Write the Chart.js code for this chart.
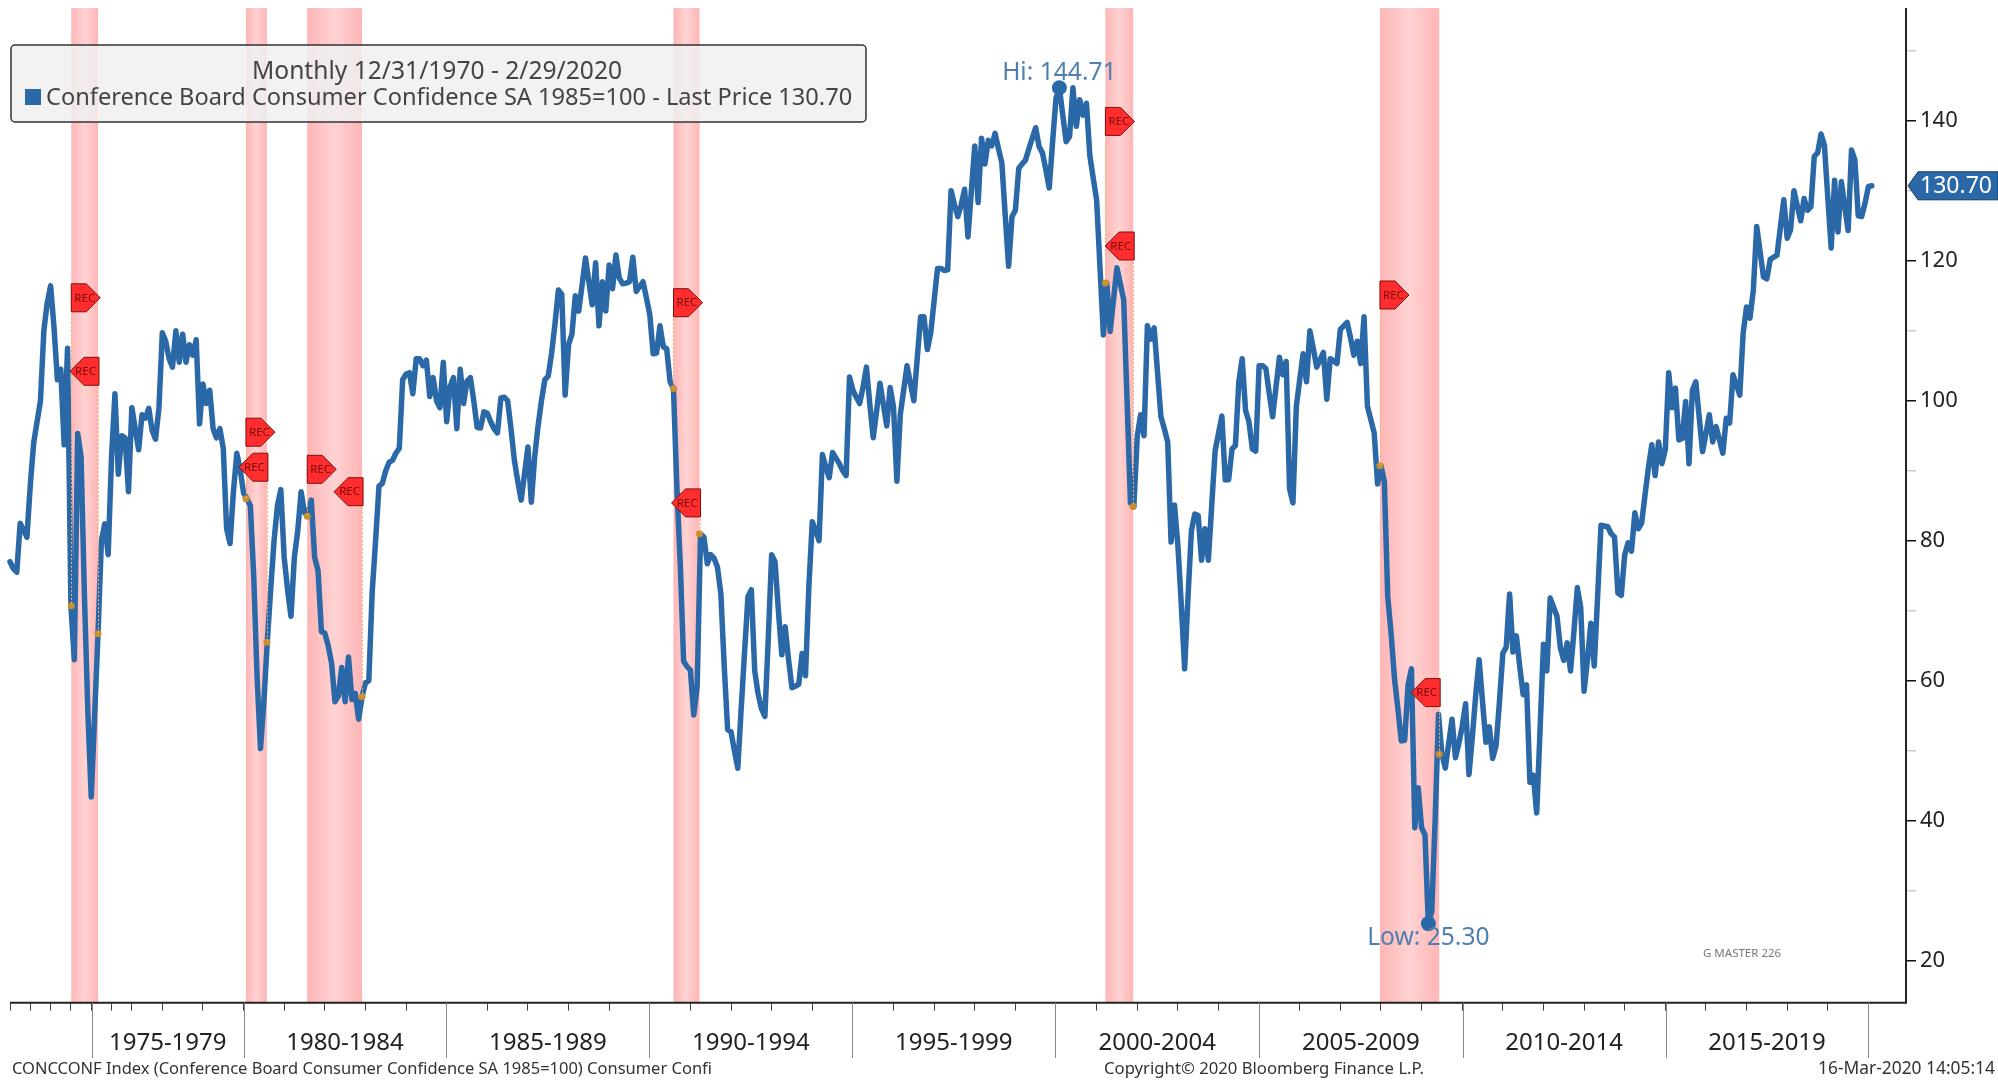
<!DOCTYPE html>
<html>
<head>
<meta charset="utf-8">
<title>Conference Board Consumer Confidence</title>
<script src="https://cdn.jsdelivr.net/npm/chart.js@4/dist/chart.umd.min.js"></script>
<style>html,body{margin:0;padding:0;background:#fff}canvas{display:block}</style>
</head>
<body>
<canvas id="c" width="1998" height="1081"></canvas>
<script>
const seriesValues = [
77,76,75.5,82.5,81.5,80.5,88,94,97,100,
110,114,116.4,110.5,103,104.5,93.7,107.5,70.7,63,
95.3,92,72,55.5,43.4,55,66.7,80,82.4,78,
92,101,89.5,95,94.7,87,99,96,93,98,
97.5,98.9,95.7,94.5,99,109.7,108.5,106,104.8,110,
105.5,109.5,105.5,108,106.5,108.7,96.7,102.4,99.6,101.5,
96,94.7,96,93.2,81.7,79.6,87,92.5,90.2,86.8,
86,85,75,60.4,50.3,57,65.5,73,80,85,
87.3,77.6,73,69.2,77.6,81.4,87,84,83.5,85.8,
77.6,75.7,67,66.8,65,62.5,57,57.8,61.9,57,
63.4,57.3,58.2,54.5,57.7,59.7,60,72.7,80,87.8,
88.2,90,91.2,91.5,92.5,93.2,103,103.8,104,101,
106,106,105,105.8,100.6,103.3,100,99,105.5,97,
102,103.3,96,104.5,99.6,102.8,103.3,100,96.2,96.1,
98.4,98.2,97,96,95.4,100.4,100.5,100,96,91.5,
88.5,85.8,89.5,93.4,85.5,92,96.4,100,103,103.5,
106.8,111,115.8,115.2,100.8,108,109.5,115,112.8,116.5,
120.4,117,113.7,119.7,110.7,117,112.8,119.4,116,120.8,
117.5,116.7,116.8,117,120.5,115.6,116.3,117,114.7,112.3,
106.7,106.8,110.7,107.7,107.4,102.7,101.7,87.7,76.7,62.8,
62,61.5,55.1,59.2,81,80.5,76.7,78,77.5,76.2,
72.4,62,53,52.7,50,47.5,56,64.1,72,73,
61.4,58.1,56,54.9,66,78,77,70,63.7,67.7,
63,59,59.2,59.5,63.9,60.7,73.5,82.7,81.5,80,
92.3,90.5,89,92.6,91.8,91,90,89.3,103.4,101.5,
100.5,99.6,102,104.8,99.5,94.7,98.5,102.5,99.5,96.4,
101.9,99.1,88.5,98,101.5,105,102.5,100,106,112,
112,107.3,109.7,114.3,118.9,118.9,118.6,118.7,130,128,
126.3,128,130.2,123.4,130,136.4,128.3,137.5,133.8,137.2,
136.4,138.2,136,134,126.5,119.2,126.3,127.2,133.2,133.8,
134.4,136,137.5,139,136.3,135.4,133,130.4,137,143.2,
144.71,140.8,137,137.7,144.7,139.2,143,140.8,142.5,135,
131.8,128.7,119,109.4,116.8,109.9,114.5,119,116.7,114.4,
100,85.4,84.9,94.9,98,95,110.7,108.8,110.4,104,
97.7,96,94.1,79.8,85.1,79.4,71,61.7,72,81.4,
83.8,83.6,77.2,81.7,77.2,85,92.8,95.3,97.8,88.7,
88.7,93.1,93.6,102.7,106,98.6,97,93.1,92.8,105,
105,104.6,101,97.7,102,106.2,103.7,105.6,87.4,85.4,
99.2,103,106.7,102.7,110,107.5,104.8,105.8,106.9,100.2,
106,105.7,105.3,110.2,110.7,111.2,109,106.5,108.5,105.3,
112,99.2,97.3,95.4,88.1,90.7,88.4,72,66.7,60.3,
56,51.4,51.5,59.4,61.7,39,44.7,39,38,25.3,
27,40,55.2,49.5,47.5,51,54.5,49,51,53.5,
56.7,46.6,52,58,63,57,51.2,53.4,48.9,50.7,
57,63.9,64.8,72.4,64.1,66.4,62,58,59.4,45.5,
46.5,41.1,53,65.2,61.4,71.8,70.5,69.2,64.7,62.9,
65.4,61.4,67,73.3,70.5,58.5,63,68.2,62.1,72,
82.2,82.1,82,81,80.5,72.5,72.2,78,79.7,78.5,
84,81.7,82.5,86.5,90.4,93.7,89.3,94.1,91,93,
104,99,101.8,94.4,94.6,99.9,91,101.5,102.7,97.7,
92.7,95.3,98,94.1,96.3,94.4,92.5,97.5,96.8,103.7,
102.3,100.8,109.7,113.4,111.8,115.8,124.9,121.3,117.7,117.4,
120.2,120.5,120.8,124.8,128.7,123.2,124.4,130,127.8,125.7,
128.9,127.2,127.7,134.9,135.4,138.1,136.5,129,121.8,131.5,
124.1,131.3,127.8,124.3,135.8,134.4,126.4,126.3,128.2,130.6,
130.7
];
const periodLabels = ["1975-1979","1980-1984","1985-1989","1990-1994","1995-1999","2000-2004","2005-2009","2010-2014","2015-2019"];
const periodEdges  = [24.2,69,128.9,188.9,248.8,308.8,369,429.1,489.1,549];
const yearTicks = [0,6,12,18,24.2,30,36,45,57,69,81,93,105,117,129,141,153,165,177,189,201,213,225,237,249,261,273,285,297,309,321,333,345,357,369,381,393,405,417,429,441,453,465,477,489,501,513,525,537,549];
const yMajorTicks = [20,40,60,80,100,120,140];
const yMinorTicks = [30,50,70,90,110,130,150];
const recStart = [18.1,69.7,87.8,196,323.6,404.7];
const recEnd   = [26,75.9,104,203.7,331.8,422.2];
const recStartDot = [70.7,86,83.5,101.7,116.8,90.7];
const recEndDot   = [66.7,65.5,57.7,81,84.9,49.5];
const recStartTag = [114.7,95.5,90.2,114,139.9,115.1];
const recEndTag   = [104.2,90.5,87,85.4,122.1,58.3];
const hiValue = 144.71, hiIndex = 310;
const lowValue = 25.30, lowIndex = 419;
const lastValue = 130.70;
const legendTitle = "Monthly 12/31/1970 - 2/29/2020";
const legendLine = "Conference Board Consumer Confidence SA 1985=100 - Last Price 130.70";
const footerLeft = "CONCCONF Index (Conference Board Consumer Confidence SA 1985=100) Consumer Confi";
const footerMid = "Copyright\u00A9 2020 Bloomberg Finance L.P.";
const footerRight = "16-Mar-2020 14:05:14";
const watermark = "G MASTER 226";

const FONT = '"Noto Sans", "Open Sans", sans-serif';
const BLUE = '#2a68a8';

const overlay = {
  id: 'overlay',
  beforeDatasetsDraw(chart) {
    const {ctx, chartArea: a, scales: {x}} = chart;
    recStart.forEach((s, i) => {
      const x0 = x.getPixelForValue(s), x1 = x.getPixelForValue(recEnd[i]);
      const g = ctx.createLinearGradient(x0, 0, x1, 0);
      g.addColorStop(0, '#ffb5b5'); g.addColorStop(0.5, '#ffd3d3'); g.addColorStop(1, '#ffb5b5');
      ctx.fillStyle = g;
      ctx.fillRect(x0, a.top, x1 - x0, a.bottom - a.top);
    });
  },
  afterDatasetsDraw(chart) {
    const {ctx, chartArea: a, scales: {x, y}} = chart;
    ctx.save();
    // dotted connectors
    ctx.strokeStyle = '#f2b06a'; ctx.lineWidth = 1; ctx.setLineDash([2, 2]);
    recStart.forEach((s, i) => {
      [[s, recStartDot[i], recStartTag[i]], [recEnd[i], recEndDot[i], recEndTag[i]]].forEach(([v, d, t]) => {
        const px = Math.round(x.getPixelForValue(v)) + 0.5;
        ctx.beginPath(); ctx.moveTo(px, y.getPixelForValue(t)); ctx.lineTo(px, y.getPixelForValue(d)); ctx.stroke();
      });
    });
    ctx.setLineDash([]);
    // REC tags
    const tag = (edge, yc, dir) => {
      const w = 29, h = 28, flat = 15;
      ctx.beginPath();
      ctx.moveTo(edge, yc - h / 2);
      ctx.lineTo(edge + dir * flat, yc - h / 2);
      ctx.lineTo(edge + dir * w, yc);
      ctx.lineTo(edge + dir * flat, yc + h / 2);
      ctx.lineTo(edge, yc + h / 2);
      ctx.closePath();
      ctx.fillStyle = '#ff2d2d'; ctx.fill();
      ctx.strokeStyle = '#7a1010'; ctx.lineWidth = 1; ctx.stroke();
      ctx.fillStyle = '#7a0c0c'; ctx.font = '11.5px ' + FONT;
      ctx.textAlign = 'center'; ctx.textBaseline = 'middle';
      ctx.fillText('REC', edge + dir * 13.5, yc + 0.5);
    };
    recStart.forEach((s, i) => {
      tag(x.getPixelForValue(s), y.getPixelForValue(recStartTag[i]), 1);
      tag(x.getPixelForValue(recEnd[i]) + 1, y.getPixelForValue(recEndTag[i]), -1);
    });
    // hi / low labels
    ctx.fillStyle = '#4f7fae'; ctx.font = '24.6px ' + FONT; ctx.textAlign = 'center'; ctx.textBaseline = 'middle';
    ctx.fillText('Hi: ' + hiValue.toFixed(2), x.getPixelForValue(hiIndex), y.getPixelForValue(hiValue) - 15);
    ctx.fillText('Low: ' + lowValue.toFixed(2), x.getPixelForValue(lowIndex), y.getPixelForValue(lowValue) + 14);
    // watermark
    ctx.fillStyle = '#777'; ctx.font = '11.5px ' + FONT; ctx.textAlign = 'left';
    ctx.fillText(watermark, 1703, 954);
    // legend box
    ctx.beginPath(); ctx.roundRect(11, 45, 855, 77, 4);
    ctx.fillStyle = 'rgba(240,240,240,0.85)'; ctx.fill();
    ctx.strokeStyle = '#333'; ctx.lineWidth = 1.5; ctx.stroke();
    ctx.fillStyle = '#444'; ctx.font = '24.6px ' + FONT; ctx.textAlign = 'center';
    ctx.fillText(legendTitle, 437, 72, 376);
    ctx.textAlign = 'left'; ctx.font = '23.6px ' + FONT;
    ctx.fillText(legendLine, 46, 98, 808);
    ctx.fillStyle = BLUE; ctx.fillRect(25, 89, 16, 16);
    // axes
    ctx.strokeStyle = '#222'; ctx.lineWidth = 2;
    ctx.beginPath(); ctx.moveTo(a.left, a.bottom); ctx.lineTo(a.right, a.bottom); ctx.lineTo(a.right, a.top); ctx.stroke();
    // period dividers and labels
    ctx.strokeStyle = '#888'; ctx.lineWidth = 1;
    periodEdges.forEach(e => {
      const px = Math.round(x.getPixelForValue(e)) + 0.5;
      ctx.beginPath(); ctx.moveTo(px, a.bottom); ctx.lineTo(px, 1058); ctx.stroke();
    });
    ctx.fillStyle = '#222'; ctx.font = '24px ' + FONT; ctx.textAlign = 'center';
    periodLabels.forEach((l, i) => {
      ctx.fillText(l, (x.getPixelForValue(periodEdges[i]) + x.getPixelForValue(periodEdges[i + 1])) / 2, 1043.5);
    });
    // footer
    ctx.fillStyle = '#333'; ctx.textAlign = 'left';
    ctx.font = '16.5px ' + FONT; ctx.fillText(footerLeft, 12, 1069, 700);
    ctx.font = '16.8px ' + FONT; ctx.fillText(footerMid, 1104, 1069, 320);
    ctx.textAlign = 'right';
    ctx.font = '17.5px ' + FONT; ctx.fillText(footerRight, 1995, 1069, 177);
    // last price tag
    const yc = y.getPixelForValue(lastValue);
    ctx.beginPath();
    ctx.moveTo(1908, yc); ctx.lineTo(1918, yc - 14); ctx.lineTo(1998, yc - 14);
    ctx.lineTo(1998, yc + 14); ctx.lineTo(1918, yc + 14); ctx.closePath();
    ctx.fillStyle = BLUE; ctx.fill();
    ctx.strokeStyle = '#153a60'; ctx.lineWidth = 1; ctx.stroke();
    ctx.fillStyle = '#fff'; ctx.font = '23px ' + FONT; ctx.textAlign = 'left';
    ctx.fillText(lastValue.toFixed(2), 1920, yc + 0.5, 73);
    ctx.restore();
  }
};

new Chart(document.getElementById('c'), {
  type: 'line',
  plugins: [overlay],
  data: {
    datasets: [
      { type: 'scatter', order: 0,
        data: recStart.map((s, i) => ({x: s, y: recStartDot[i]})).concat(recEnd.map((e, i) => ({x: e, y: recEndDot[i]}))),
        pointRadius: 3.5, pointBackgroundColor: '#c98f2e', pointBorderWidth: 0, showLine: false },
      { type: 'scatter', order: 1,
        data: [{x: hiIndex, y: hiValue}, {x: lowIndex, y: lowValue}],
        pointRadius: 7.5, pointBackgroundColor: BLUE, pointBorderWidth: 0, showLine: false },
      { label: 'Conference Board Consumer Confidence SA 1985=100', order: 2,
        data: seriesValues.map((v, i) => ({x: i, y: v})),
        borderColor: BLUE, borderWidth: 5.5, pointRadius: 0, tension: 0,
        borderJoinStyle: 'round', borderCapStyle: 'round', fill: false, clip: false }
    ]
  },
  options: {
    responsive: false, animation: false, parsing: false, normalized: true,
    layout: { padding: { left: 10, top: 8, right: 0, bottom: 0 } },
    plugins: { legend: { display: false }, tooltip: { enabled: false }, title: { display: false } },
    scales: {
      x: {
        type: 'linear', min: 0, max: 560.1,
        afterBuildTicks(s) { s.ticks = yearTicks.map(v => ({value: v})); },
        afterFit(s) { s.height = 78.3; s.paddingLeft = 0; s.paddingRight = 0; },
        border: { display: false },
        grid: { drawOnChartArea: false, drawTicks: true, tickLength: 8, color: '#444' },
        ticks: { display: true, callback: () => '', maxRotation: 0, autoSkip: false }
      },
      y: {
        position: 'right', min: 14, max: 156.1,
        afterBuildTicks(s) { s.ticks = yMajorTicks.concat(yMinorTicks).map(v => ({value: v})); },
        afterFit(s) { s.width = 92; s.paddingTop = 0; s.paddingBottom = 0; },
        border: { display: false },
        grid: {
          drawOnChartArea: false, drawTicks: true, tickLength: 10, lineWidth: 1.5,
          color: c => yMajorTicks.includes(c.tick.value) ? '#111' : '#ccc'
        },
        ticks: {
          autoSkip: false, padding: 4, color: '#222', font: { family: FONT, size: 22 },
          callback: v => yMajorTicks.includes(v) ? String(v) : ''
        }
      }
    }
  }
});
</script>
</body>
</html>
